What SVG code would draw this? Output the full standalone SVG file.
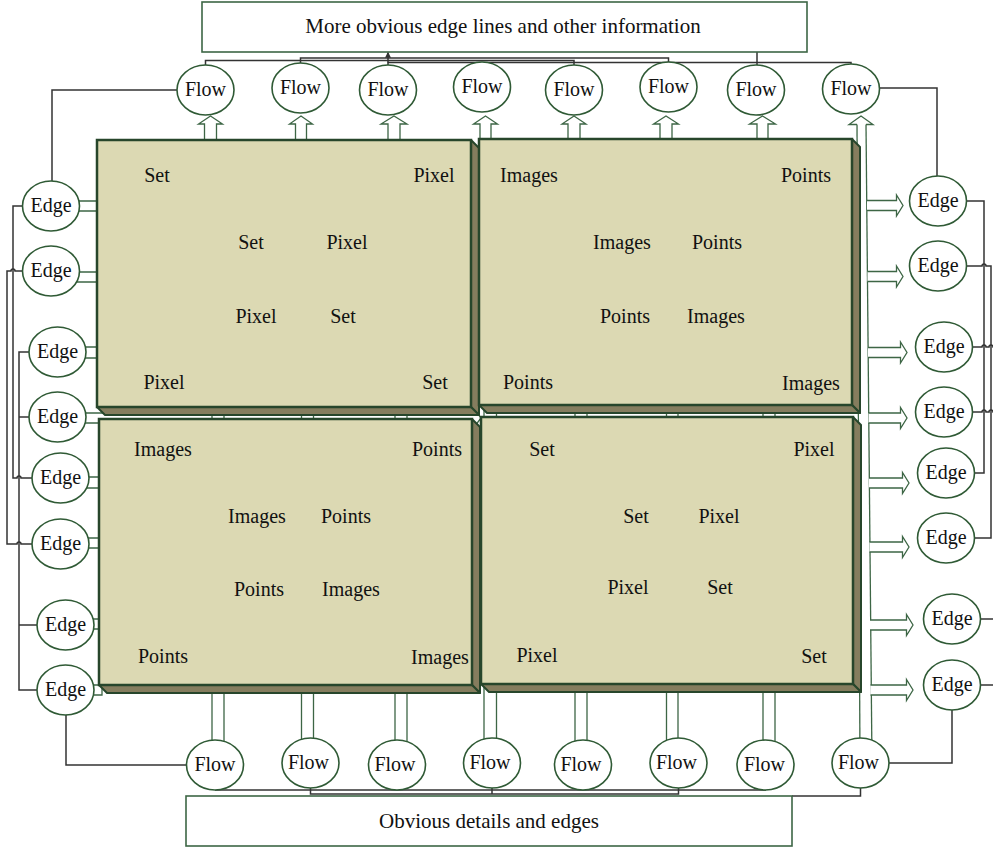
<svg xmlns="http://www.w3.org/2000/svg" width="993" height="848" viewBox="0 0 993 848">
<style>
.face{fill:#DCD9B3;stroke:#27462B;stroke-width:2.5}
.shade{fill:#857D5E;stroke:#27462B;stroke-width:2;stroke-linejoin:round}
.node{fill:#fff;stroke:#2F5A35;stroke-width:1.6}
.pipe{fill:#fff;stroke:#3D6645;stroke-width:1.3}
.wire{fill:none;stroke:#333;stroke-width:1.5}
.box{fill:#fff;stroke:#3D6645;stroke-width:1.6}
text{font-family:"Liberation Serif","Times New Roman",serif;font-size:20px;fill:#111;text-anchor:middle}
.title{font-size:21px}
</style>
<defs>
<marker id="ah" viewBox="0 0 8 8" refX="7" refY="4" markerWidth="6" markerHeight="6" orient="auto" markerUnits="userSpaceOnUse"><path d="M0,0 L8,4 L0,8 z" fill="#333"/></marker>
</defs>

<g id="connectors">
 <!-- top buses -->
 <path class="wire" d="M205.5,65 V60.5 H574 V65"/>
 <path class="wire" d="M300.5,63 V58 H668.5 V62"/>
 <path class="wire" d="M388,65 V62.5 H851 V64"/>
 <path class="wire" d="M388,62.5 V52.5" marker-end="url(#ah)"/>
 <path class="wire" d="M757,52 V65"/>
 <!-- left side -->
 <path class="wire" d="M177,90 H52 V181"/>
 <path class="wire" d="M22.5,206 H13 V478 H17 A2,2 0 0 1 21,478 H32"/>
 <path class="wire" d="M22.5,271 H15 A2,2 0 0 0 11,271 H7 V544 H17 A2,2 0 0 1 21,544 H32"/>
 <path class="wire" d="M29,352 H19 V690 H37"/>
 <path class="wire" d="M29,417 H19"/>
 <path class="wire" d="M37,625 H19"/>
 <path class="wire" d="M66,715 V765 H187"/>
 <!-- right side -->
 <path class="wire" d="M879.5,88 H937 V176"/>
 <path class="wire" d="M967,201 H984 V473 H975"/>
 <path class="wire" d="M967,266 H982 A2,2 0 0 1 986,266 H991 V538 H975"/>
 <path class="wire" d="M973,347 H982 A2,2 0 0 1 986,347 H989 A2,2 0 0 1 993,347 H996"/>
 <path class="wire" d="M973,412 H982 A2,2 0 0 1 986,412 H989 A2,2 0 0 1 993,412 H996"/>
 <path class="wire" d="M981,619 H996"/>
 <path class="wire" d="M981,685 H996"/>
 <path class="wire" d="M952,710 V763 H889"/>
 <!-- bottom buses -->
 <path class="wire" d="M215,790 H766"/>
 <path class="wire" d="M310.5,788 V794 H678.5 V788"/>
 <path class="wire" d="M492,788 V794"/>
 <path class="wire" d="M860.5,788 V796 H792"/>

 <!-- left pipes into panels -->
 <path class="pipe" d="M51,201 H100 V211 H51"/>
 <path class="pipe" d="M51,272 H100 V282 H51"/>
 <path class="pipe" d="M57,347 H100 V358 H57"/>
 <path class="pipe" d="M57,413 H472 V406 L481,418 L472,430 V423 H57"/>
 <path class="pipe" d="M60,477 H102 V488 H60"/>
 <path class="pipe" d="M60,538 H102 V548 H60"/>
 <path class="pipe" d="M65,619 H102 V629 H65"/>
 <path class="pipe" d="M65,685 H102 V695 H65"/>

 <!-- bottom pipes -->
 <path class="pipe" d="M212,395 V765 H224 V395"/>
 <path class="pipe" d="M301.5,395 V763 H313.5 V395"/>
 <path class="pipe" d="M395,395 V765 H407 V395"/>
 <path class="pipe" d="M484,395 V763 H496.5 V395"/>
 <path class="pipe" d="M575,395 V765 H587 V395"/>
 <path class="pipe" d="M666.5,395 V763 H678 V395"/>
 <path class="pipe" d="M763,395 V765 H775 V395"/>

 <!-- long right pipe (flow 8 to bottom flow 8) -->
 <polygon points="857,124 866,124 872,763 860,763" fill="#fff"/>
 <path class="pipe" d="M857,124 L860,763" fill="none"/>
 <path class="pipe" d="M866,124 L872,763" fill="none"/>
 <path class="pipe" d="M857,124.5 H849 L861,116 L873,124.5 H866"/>

 <!-- right arrows -->
 <path class="pipe" d="M867,200.5 H896.5 V195 L903,205.5 L896.5,216 V210.5 H867"/>
 <path class="pipe" d="M867.5,271.5 H896.5 V266 L903,276.5 L896.5,287 V281.5 H867.5"/>
 <path class="pipe" d="M868,347.5 H900.5 V342 L907,352.5 L900.5,363 V357.5 H868"/>
 <path class="pipe" d="M868.5,413 H900.5 V407.5 L907,418 L900.5,428.5 V423 H868.5"/>
 <path class="pipe" d="M869,478 H902.5 V472.5 L909,483 L902.5,493.5 V488 H869"/>
 <path class="pipe" d="M869.5,542 H902.5 V536.5 L909,547 L902.5,557.5 V552 H869.5"/>
 <path class="pipe" d="M870,620 H906.5 V614.5 L913,625 L906.5,635.5 V630 H870"/>
 <path class="pipe" d="M870.5,685 H906.5 V679.5 L913,690 L906.5,700.5 V695 H870.5"/>

 <!-- top up arrows -->
 <path class="pipe" d="M204.5,140 V124 H198.5 L210.5,116 L222.5,124 H216.5 V140"/>
 <path class="pipe" d="M295.5,140 V124 H289.5 L301,116 L312.5,124 H306.5 V140"/>
 <path class="pipe" d="M388,140 V124 H381 L394,116 L407,124 H400 V140"/>
 <path class="pipe" d="M480,140 V124 H473.5 L485.5,116 L497.5,124 H491 V140"/>
 <path class="pipe" d="M568,140 V124 H562 L574,116 L586,124 H580 V140"/>
 <path class="pipe" d="M660,140 V124 H653.5 L666,116 L678.5,124 H672 V140"/>
 <path class="pipe" d="M757,140 V124 H749.5 L762.5,116 L775.5,124 H768 V140"/>
</g>

<g id="panel-tl">
 <polygon class="shade" points="471,140 479,148 479,415 471,407"/>
 <polygon class="shade" points="97,407 105,415 479,415 471,407"/>
 <rect class="face" x="97" y="140" width="374" height="267"/>
 <text x="157" y="182">Set</text><text x="434" y="182">Pixel</text>
 <text x="251" y="249">Set</text><text x="347" y="249">Pixel</text>
 <text x="256" y="323">Pixel</text><text x="343" y="323">Set</text>
 <text x="164" y="389">Pixel</text><text x="435" y="389">Set</text>
</g>
<g id="panel-tr">
 <polygon class="shade" points="852,139 860,147 860,413 852,405"/>
 <polygon class="shade" points="479,405 487,413 860,413 852,405"/>
 <rect class="face" x="479" y="139" width="373" height="266"/>
 <text x="529" y="182">Images</text><text x="806" y="182">Points</text>
 <text x="622" y="249">Images</text><text x="717" y="249">Points</text>
 <text x="625" y="323">Points</text><text x="716" y="323">Images</text>
 <text x="528" y="389">Points</text><text x="811" y="390">Images</text>
</g>
<g id="panel-bl">
 <polygon class="shade" points="472,419 480,427 480,693 472,685"/>
 <polygon class="shade" points="99,685 107,693 480,693 472,685"/>
 <rect class="face" x="99" y="419" width="373" height="266"/>
 <text x="163" y="456">Images</text><text x="437" y="456">Points</text>
 <text x="257" y="523">Images</text><text x="346" y="523">Points</text>
 <text x="259" y="596">Points</text><text x="351" y="596">Images</text>
 <text x="163" y="663">Points</text><text x="440" y="664">Images</text>
</g>
<g id="panel-br">
 <polygon class="shade" points="853,417 861,425 861,692 853,684"/>
 <polygon class="shade" points="481,684 489,692 861,692 853,684"/>
 <rect class="face" x="481" y="417" width="372" height="267"/>
 <text x="542" y="456">Set</text><text x="814" y="456">Pixel</text>
 <text x="636" y="523">Set</text><text x="719" y="523">Pixel</text>
 <text x="628" y="594">Pixel</text><text x="720" y="594">Set</text>
 <text x="537" y="662">Pixel</text><text x="814" y="663">Set</text>
</g>

<g id="top-box"><rect class="box" x="202" y="2" width="605" height="50"/><text class="title" x="503" y="33">More obvious edge lines and other information</text></g>
<g id="bottom-box"><rect class="box" x="186" y="796" width="606" height="50"/><text class="title" x="489" y="828">Obvious details and edges</text></g>

<g id="flow-t1"><ellipse class="node" cx="205.5" cy="90" rx="28.5" ry="25"/><text x="205.5" y="96">Flow</text></g>
<g id="flow-t2"><ellipse class="node" cx="300.5" cy="88" rx="28.5" ry="25"/><text x="300.5" y="94">Flow</text></g>
<g id="flow-t3"><ellipse class="node" cx="388" cy="90" rx="28.5" ry="25"/><text x="388" y="96">Flow</text></g>
<g id="flow-t4"><ellipse class="node" cx="482" cy="87" rx="28.5" ry="25"/><text x="482" y="93">Flow</text></g>
<g id="flow-t5"><ellipse class="node" cx="574" cy="90" rx="28.5" ry="25"/><text x="574" y="96">Flow</text></g>
<g id="flow-t6"><ellipse class="node" cx="668.5" cy="87" rx="28.5" ry="25"/><text x="668.5" y="93">Flow</text></g>
<g id="flow-t7"><ellipse class="node" cx="756" cy="90" rx="28.5" ry="25"/><text x="756" y="96">Flow</text></g>
<g id="flow-t8"><ellipse class="node" cx="851" cy="89" rx="28.5" ry="25"/><text x="851" y="95">Flow</text></g>

<g id="flow-b1"><ellipse class="node" cx="215" cy="765" rx="28.5" ry="25"/><text x="215" y="771">Flow</text></g>
<g id="flow-b2"><ellipse class="node" cx="310.5" cy="763" rx="28.5" ry="25"/><text x="308.5" y="769">Flow</text></g>
<g id="flow-b3"><ellipse class="node" cx="397" cy="765" rx="28.5" ry="25"/><text x="395" y="771">Flow</text></g>
<g id="flow-b4"><ellipse class="node" cx="492" cy="763" rx="28.5" ry="25"/><text x="490" y="769">Flow</text></g>
<g id="flow-b5"><ellipse class="node" cx="583" cy="765" rx="28.5" ry="25"/><text x="581" y="771">Flow</text></g>
<g id="flow-b6"><ellipse class="node" cx="678.5" cy="763" rx="28.5" ry="25"/><text x="676.5" y="769">Flow</text></g>
<g id="flow-b7"><ellipse class="node" cx="765.5" cy="765" rx="28.5" ry="25"/><text x="764.5" y="771">Flow</text></g>
<g id="flow-b8"><ellipse class="node" cx="860.5" cy="763" rx="28.5" ry="25"/><text x="858.5" y="769">Flow</text></g>

<g id="edge-l1"><ellipse class="node" cx="51" cy="206" rx="28.5" ry="25"/><text x="51" y="212">Edge</text></g>
<g id="edge-l2"><ellipse class="node" cx="51" cy="271" rx="28.5" ry="25"/><text x="51" y="277">Edge</text></g>
<g id="edge-l3"><ellipse class="node" cx="57.5" cy="352" rx="28.5" ry="25"/><text x="57.5" y="358">Edge</text></g>
<g id="edge-l4"><ellipse class="node" cx="57.5" cy="417" rx="28.5" ry="25"/><text x="57.5" y="423">Edge</text></g>
<g id="edge-l5"><ellipse class="node" cx="60.5" cy="478" rx="28.5" ry="25"/><text x="60.5" y="484">Edge</text></g>
<g id="edge-l6"><ellipse class="node" cx="60.5" cy="544" rx="28.5" ry="25"/><text x="60.5" y="550">Edge</text></g>
<g id="edge-l7"><ellipse class="node" cx="65.5" cy="625" rx="28.5" ry="25"/><text x="65.5" y="631">Edge</text></g>
<g id="edge-l8"><ellipse class="node" cx="65.5" cy="690" rx="28.5" ry="25"/><text x="65.5" y="696">Edge</text></g>

<g id="edge-r1"><ellipse class="node" cx="938" cy="201" rx="28.5" ry="25"/><text x="938" y="207">Edge</text></g>
<g id="edge-r2"><ellipse class="node" cx="938" cy="266" rx="28.5" ry="25"/><text x="938" y="272">Edge</text></g>
<g id="edge-r3"><ellipse class="node" cx="944" cy="347" rx="28.5" ry="25"/><text x="944" y="353">Edge</text></g>
<g id="edge-r4"><ellipse class="node" cx="944" cy="412" rx="28.5" ry="25"/><text x="944" y="418">Edge</text></g>
<g id="edge-r5"><ellipse class="node" cx="946" cy="473" rx="28.5" ry="25"/><text x="946" y="479">Edge</text></g>
<g id="edge-r6"><ellipse class="node" cx="946" cy="538" rx="28.5" ry="25"/><text x="946" y="544">Edge</text></g>
<g id="edge-r7"><ellipse class="node" cx="952" cy="619" rx="28.5" ry="25"/><text x="952" y="625">Edge</text></g>
<g id="edge-r8"><ellipse class="node" cx="952" cy="685" rx="28.5" ry="25"/><text x="952" y="691">Edge</text></g>
</svg>
